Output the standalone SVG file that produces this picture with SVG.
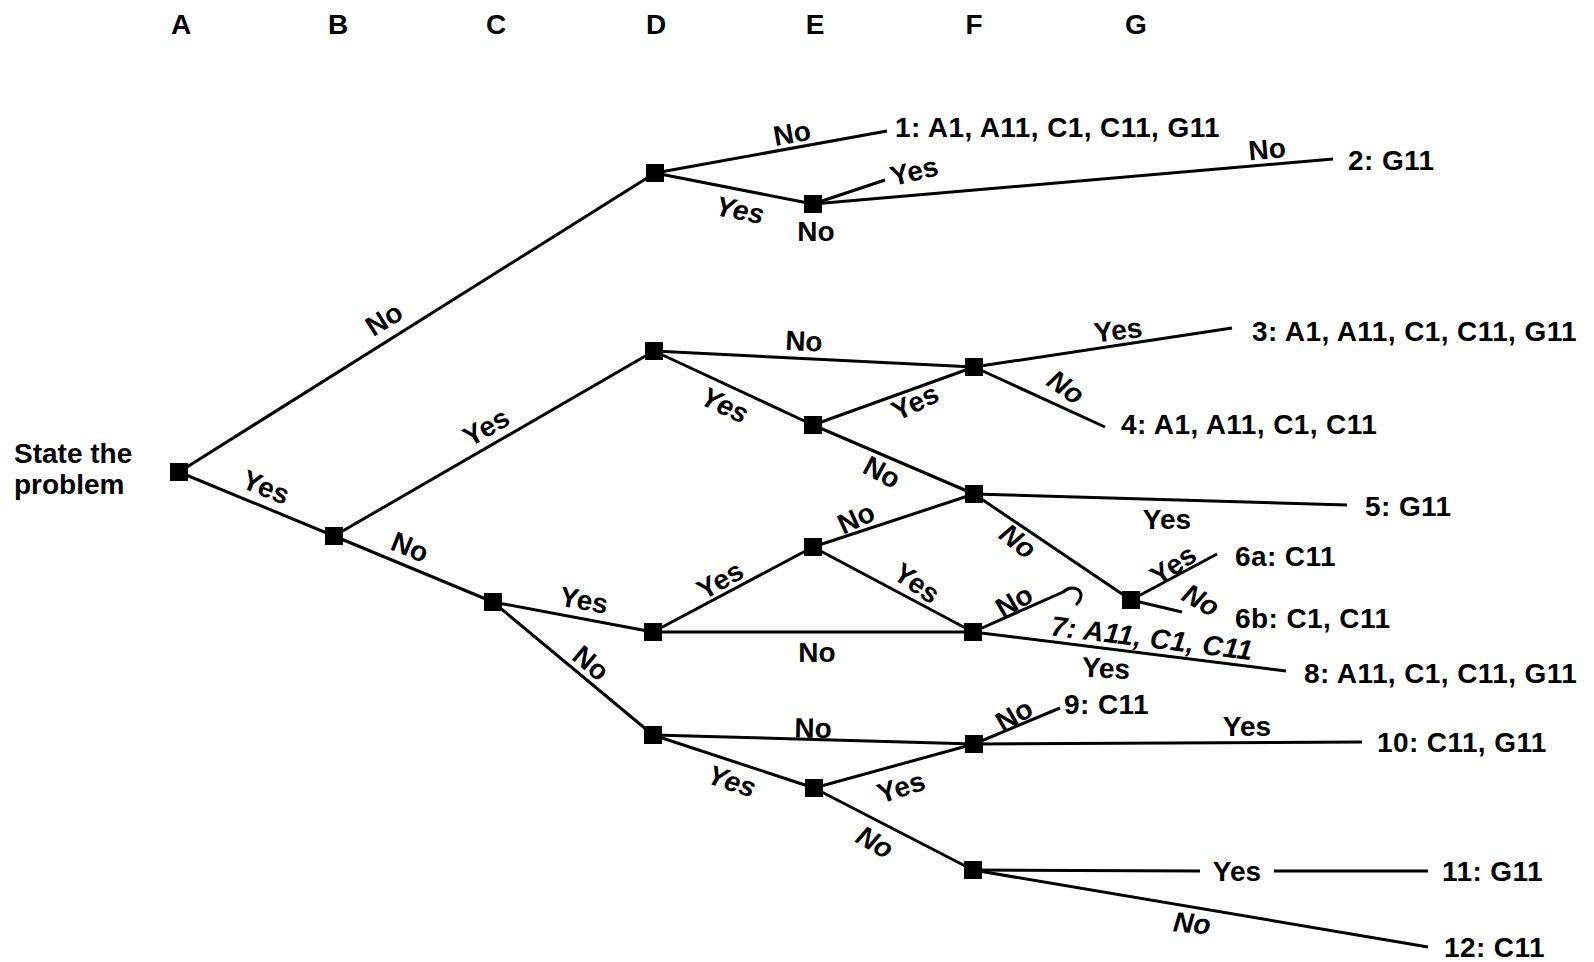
<svg xmlns="http://www.w3.org/2000/svg" width="1594" height="962" viewBox="0 0 1594 962">
<style>
.t{font-family:"Liberation Sans",Arial,sans-serif;font-weight:bold;font-size:28px;fill:#000}
.o{letter-spacing:0.4px}
.i{font-style:italic}
.c line,.c path{stroke:#000;stroke-width:3;fill:none}
.n rect{fill:#000}
</style>
<rect width="1594" height="962" fill="#fff"/>
<g id="header" class="t" text-anchor="middle">
<text x="181" y="34">A</text><text x="338" y="34">B</text><text x="496" y="34">C</text><text x="656" y="34">D</text><text x="815" y="34">E</text><text x="974" y="34">F</text><text x="1136" y="34">G</text>
</g>
<g id="connectors" class="c">
<line x1="179" y1="472" x2="655" y2="173"/>
<line x1="179" y1="472" x2="334" y2="536"/>
<line x1="334" y1="536" x2="654" y2="351"/>
<line x1="334" y1="536" x2="493" y2="602"/>
<line x1="493" y1="602" x2="653" y2="632"/>
<line x1="493" y1="602" x2="653" y2="735"/>
<line x1="655" y1="173" x2="887" y2="131"/>
<line x1="655" y1="173" x2="813" y2="204"/>
<line x1="813" y1="204" x2="885" y2="180"/>
<line x1="813" y1="204" x2="1333" y2="159"/>
<line x1="654" y1="351" x2="974" y2="367"/>
<line x1="654" y1="351" x2="813" y2="425"/>
<line x1="813" y1="425" x2="974" y2="367"/>
<line x1="813" y1="425" x2="974" y2="494"/>
<line x1="974" y1="367" x2="1232" y2="328"/>
<line x1="974" y1="367" x2="1105" y2="427"/>
<line x1="813" y1="547" x2="974" y2="494"/>
<line x1="653" y1="632" x2="813" y2="547"/>
<line x1="813" y1="547" x2="973" y2="632"/>
<line x1="653" y1="632" x2="973" y2="632"/>
<line x1="974" y1="494" x2="1347" y2="505"/>
<line x1="974" y1="494" x2="1131" y2="600"/>
<line x1="1131" y1="600" x2="1217" y2="554"/>
<line x1="1131" y1="600" x2="1182" y2="612"/>
<path d="M973,632 L1063,592 C1070,586 1080,587 1081,595 C1081,600 1078,603 1076,605"/>
<line x1="973" y1="632" x2="1286" y2="671"/>
<line x1="653" y1="735" x2="974" y2="744"/>
<line x1="653" y1="735" x2="814" y2="788"/>
<line x1="814" y1="788" x2="974" y2="744"/>
<line x1="814" y1="788" x2="973" y2="870"/>
<line x1="974" y1="744" x2="1060" y2="708"/>
<line x1="974" y1="744" x2="1362" y2="742"/>
<line x1="973" y1="870" x2="1200" y2="871"/>
<line x1="1274" y1="871" x2="1428" y2="871"/>
<line x1="973" y1="870" x2="1428" y2="947"/>
</g>
<g class="n">
<g id="nA"><rect x="170" y="463" width="18" height="18"/></g>
<g id="nB"><rect x="325" y="527" width="18" height="18"/></g>
<g id="nC"><rect x="484" y="593" width="18" height="18"/></g>
<g id="nD1"><rect x="646" y="164" width="18" height="18"/></g>
<g id="nD2"><rect x="645" y="342" width="18" height="18"/></g>
<g id="nD3"><rect x="644" y="623" width="18" height="18"/></g>
<g id="nD4"><rect x="644" y="726" width="18" height="18"/></g>
<g id="nE1"><rect x="804" y="195" width="18" height="18"/></g>
<g id="nE2"><rect x="804" y="416" width="18" height="18"/></g>
<g id="nE3"><rect x="804" y="538" width="18" height="18"/></g>
<g id="nE4"><rect x="805" y="779" width="18" height="18"/></g>
<g id="nF1"><rect x="965" y="358" width="18" height="18"/></g>
<g id="nF2"><rect x="965" y="485" width="18" height="18"/></g>
<g id="nF3"><rect x="964" y="623" width="18" height="18"/></g>
<g id="nF4"><rect x="965" y="735" width="18" height="18"/></g>
<g id="nF5"><rect x="964" y="861" width="18" height="18"/></g>
<g id="nG"><rect x="1122" y="591" width="18" height="18"/></g>
</g>
<g id="root-label" class="t">
<text x="14" y="463">State the</text>
<text x="14" y="494">problem</text>
</g>
<g id="edge-labels" class="t" text-anchor="middle">
<text x="384" y="319" dy="0.35em" transform="rotate(-32 384 319)">No</text>
<text x="266" y="487" dy="0.35em" transform="rotate(22 266 487)">Yes</text>
<text x="486" y="427" dy="0.35em" transform="rotate(-30 486 427)">Yes</text>
<text x="410" y="547" dy="0.35em" transform="rotate(22 410 547)">No</text>
<text x="584" y="600" dy="0.35em" transform="rotate(10 584 600)">Yes</text>
<text x="591" y="663" dy="0.35em" transform="rotate(40 591 663)">No</text>
<text x="792" y="133" dy="0.35em" transform="rotate(-10 792 133)">No</text>
<text class="i" x="740" y="210" dy="0.35em" transform="rotate(11 740 210)">Yes</text>
<text x="914" y="171" dy="0.35em" transform="rotate(-14 914 171)">Yes</text>
<text x="1267" y="149" dy="0.35em" transform="rotate(-5 1267 149)">No</text>
<text x="816" y="241">No</text>
<text x="804" y="341" dy="0.35em" transform="rotate(2.5 804 341)">No</text>
<text class="i" x="725" y="405" dy="0.35em" transform="rotate(25 725 405)">Yes</text>
<text x="915" y="402" dy="0.35em" transform="rotate(-26 915 402)">Yes</text>
<text x="882" y="472" dy="0.35em" transform="rotate(28 882 472)">No</text>
<text x="1118" y="330" dy="0.35em" transform="rotate(-7 1118 330)">Yes</text>
<text class="i" x="1066" y="387" dy="0.35em" transform="rotate(35 1066 387)">No</text>
<text x="856" y="518" dy="0.35em" transform="rotate(-25 856 518)">No</text>
<text x="720" y="580" dy="0.35em" transform="rotate(-30 720 580)">Yes</text>
<text x="917" y="583" dy="0.35em" transform="rotate(35 917 583)">Yes</text>
<text x="817" y="652" dy="0.35em">No</text>
<text x="1167" y="519" dy="0.35em">Yes</text>
<text class="i" x="1018" y="541" dy="0.35em" transform="rotate(38 1018 541)">No</text>
<text x="1173" y="565" dy="0.35em" transform="rotate(-35 1173 565)">Yes</text>
<text class="i" x="1201" y="600" dy="0.35em" transform="rotate(30 1201 600)">No</text>
<text x="1014" y="601" dy="0.35em" transform="rotate(-30 1014 601)">No</text>
<text class="i o" x="1152" y="638" dy="0.35em" transform="rotate(7 1152 638)">7: A11, C1, C11</text>
<text x="1106" y="668" dy="0.35em" transform="rotate(3 1106 668)">Yes</text>
<text x="813" y="728" dy="0.35em" transform="rotate(1 813 728)">No</text>
<text class="i" x="732" y="781" dy="0.35em" transform="rotate(18 732 781)">Yes</text>
<text x="901" y="787" dy="0.35em" transform="rotate(-18 901 787)">Yes</text>
<text class="i" x="875" y="842" dy="0.35em" transform="rotate(30 875 842)">No</text>
<text x="1014" y="715" dy="0.35em" transform="rotate(-30 1014 715)">No</text>
<text x="1247" y="726" dy="0.35em">Yes</text>
<text x="1237" y="871" dy="0.35em">Yes</text>
<text class="i" x="1192" y="923" dy="0.35em" transform="rotate(5 1192 923)">No</text>
</g>
<g id="outcomes" class="t o">
<text x="895" y="137">1: A1, A11, C1, C11, G11</text>
<text x="1348" y="170">2: G11</text>
<text x="1252" y="341">3: A1, A11, C1, C11, G11</text>
<text x="1121" y="434">4: A1, A11, C1, C11</text>
<text x="1365" y="516">5: G11</text>
<text x="1235" y="566">6a: C11</text>
<text x="1235" y="628">6b: C1, C11</text>
<text x="1304" y="683">8: A11, C1, C11, G11</text>
<text x="1064" y="714">9: C11</text>
<text x="1377" y="752">10: C11, G11</text>
<text x="1442" y="881">11: G11</text>
<text x="1444" y="957">12: C11</text>
</g>
</svg>
